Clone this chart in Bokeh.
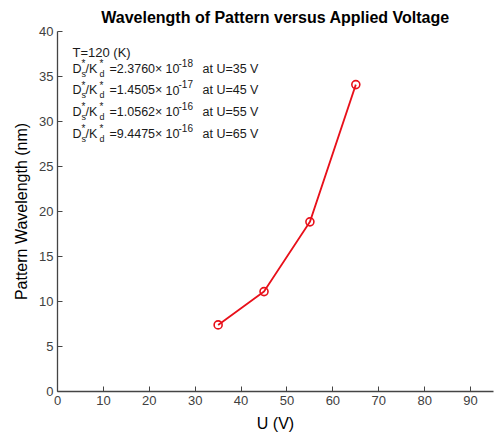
from bokeh.plotting import figure
from bokeh.models import Label, FixedTicker, Range1d, Title
from bokeh.embed import file_html
from bokeh.resources import INLINE

# data
voltage = [35, 45, 55, 65]
wavelength = [7.4, 11.1, 18.85, 34.1]
mantissas = ["2.3760", "1.4505", "1.0562", "9.4475"]
exponents = ["-18", "-17", "-16", "-16"]
x_ticks = [0, 10, 20, 30, 40, 50, 60, 70, 80, 90]
y_ticks = [0, 5, 10, 15, 20, 25, 30, 35, 40]

FONT = "Liberation Sans"
TXT = "#1a1a1a"

p = figure(width=499, height=438, output_backend="svg", toolbar_location=None,
           x_range=Range1d(0, 95), y_range=Range1d(0, 40),
           min_border_left=57, min_border_right=6, min_border_top=30, min_border_bottom=47)
p.title = None
p.add_layout(Title(text="Wavelength of Pattern versus Applied Voltage", align="center",
                   text_font=FONT, text_font_size="16px", text_font_style="bold",
                   text_color="black", standoff=12), "above")

p.background_fill_color = "white"
p.border_fill_color = "white"
p.outline_line_color = None
p.xgrid.visible = False
p.ygrid.visible = False

for ax in (p.xaxis[0], p.yaxis[0]):
    ax.axis_line_color = "#444444"
    ax.axis_line_width = 1.3
    ax.major_tick_line_color = "#444444"
    ax.major_tick_in = 5
    ax.major_tick_out = 0
    ax.minor_tick_line_color = None
    ax.major_label_text_font = FONT
    ax.major_label_text_font_size = "13px"
    ax.major_label_text_color = "#404040"
    ax.major_label_standoff = 4
    ax.axis_label_text_font = FONT
    ax.axis_label_text_font_size = "16px"
    ax.axis_label_text_font_style = "normal"
    ax.axis_label_text_color = "black"

p.xaxis.ticker = FixedTicker(ticks=x_ticks)
p.yaxis.ticker = FixedTicker(ticks=y_ticks)
p.xaxis.axis_label = "U (V)"
p.yaxis.axis_label = "Pattern Wavelength (nm)"
p.xaxis.axis_label_standoff = 7
p.yaxis.axis_label_standoff = 6

p.line(voltage, wavelength, line_color="#e8101a", line_width=1.8)
p.scatter(voltage, wavelength, marker="circle", size=8, line_color="#e8101a",
          line_width=1.6, fill_color=None)

def lab(text, dx, dy, size="12.5px"):
    p.add_layout(Label(x=0, y=40, x_offset=dx, y_offset=dy, text=text,
                       text_font=FONT, text_font_size=size, text_color=TXT,
                       text_align="left", text_baseline="alphabetic"))

X0 = 15
lab("T=120 (K)", X0, -21, "13px")
for i, (m, e, v) in enumerate(zip(mantissas, exponents, voltage)):
    base = -(37 + 21.7 * i)
    lab("D", X0, base)
    lab("*", X0 + 9, base + 5, "10px")
    lab("s", X0 + 9, base - 5, "9px")
    lab("/K", X0 + 13, base)
    lab("*", X0 + 27, base + 5, "10px")
    lab("d", X0 + 27, base - 5, "9px")
    lab("=" + m + "\u00d7", X0 + 37, base)
    lab("10", X0 + 93, base)
    lab(e, X0 + 106, base + 6, "10px")
    lab("at U=%d V" % v, X0 + 130, base)

open("out.html", "w").write(file_html(p, INLINE))
